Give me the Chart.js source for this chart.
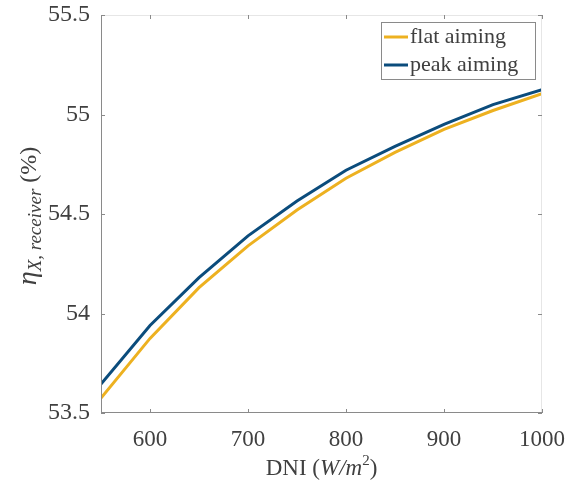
<!DOCTYPE html>
<html><head><meta charset="utf-8">
<script src="https://cdn.jsdelivr.net/npm/chart.js@4/dist/chart.umd.min.js"></script>
<style>html,body{margin:0;padding:0;background:#fff}#wrap{width:568px;height:486px}</style>
</head><body><div id="wrap"><canvas id="c" width="568" height="486"></canvas></div>
<script>
const dni = [550, 600, 650, 700, 750, 800, 850, 900, 950, 1000];
const flatAiming = [53.575, 53.875, 54.13, 54.34, 54.52, 54.68, 54.81, 54.925, 55.02, 55.105];
const peakAiming = [53.645, 53.94, 54.18, 54.39, 54.565, 54.72, 54.84, 54.95, 55.05, 55.125];
const xTicks = [600, 700, 800, 900, 1000];
const yTicks = [53.5, 54, 54.5, 55, 55.5];
const seriesNames = ['flat aiming', 'peak aiming'];
const seriesColors = ['#EDB120', '#0B4C7C'];
const SERIF = '"Liberation Serif", "DejaVu Serif", serif';
const TXT = '#404040';

const frame = {
  id: 'frame',
  afterDraw(chart) {
    const ctx = chart.ctx, a = chart.chartArea;
    const xs = chart.scales.x, ys = chart.scales.y;
    ctx.save();
    ctx.lineWidth = 1;
    ctx.strokeStyle = '#e6e6e6';
    ctx.beginPath();
    ctx.moveTo(a.left, a.top + 0.5); ctx.lineTo(a.right, a.top + 0.5);
    ctx.moveTo(a.right - 0.5, a.top); ctx.lineTo(a.right - 0.5, a.bottom);
    ctx.stroke();
    ctx.strokeStyle = '#8a8a8a';
    ctx.beginPath();
    ctx.moveTo(a.left + 0.5, a.top); ctx.lineTo(a.left + 0.5, a.bottom);
    ctx.moveTo(a.left, a.bottom - 0.5); ctx.lineTo(a.right, a.bottom - 0.5);
    ctx.stroke();
    ctx.beginPath();
    xTicks.forEach(v => {
      const px = Math.round(xs.getPixelForValue(v)) + 0.5;
      ctx.moveTo(px, a.bottom); ctx.lineTo(px, a.bottom - 4);
      ctx.moveTo(px, a.top); ctx.lineTo(px, a.top + 4);
    });
    yTicks.forEach(v => {
      const py = Math.round(ys.getPixelForValue(v)) + 0.5;
      ctx.moveTo(a.left, py); ctx.lineTo(a.left + 4, py);
      ctx.moveTo(a.right, py); ctx.lineTo(a.right - 4, py);
    });
    ctx.stroke();
    // legend
    const lx = 381, ly = 22, lw = 154, lh = 57;
    ctx.fillStyle = '#fff';
    ctx.fillRect(lx, ly, lw, lh);
    ctx.strokeStyle = '#8a8a8a';
    ctx.strokeRect(lx + 0.5, ly + 0.5, lw, lh);
    ctx.font = '22px ' + SERIF;
    ctx.textBaseline = 'middle';
    ctx.textAlign = 'left';
    seriesNames.forEach((name, i) => {
      const yy = ly + 15 + i * 28;
      ctx.strokeStyle = seriesColors[i]; ctx.lineWidth = 3;
      ctx.beginPath(); ctx.moveTo(lx + 3, yy); ctx.lineTo(lx + 27, yy); ctx.stroke();
      ctx.fillStyle = TXT;
      ctx.fillText(name, lx + 29, yy);
    });
    // x title
    ctx.fillStyle = TXT;
    ctx.textBaseline = 'alphabetic';
    const parts = [['DNI (', '23px ' + SERIF, 0], ['W/m', 'italic 23px ' + SERIF, 0], ['2', '15px ' + SERIF, -10], [')', '23px ' + SERIF, 0]];
    let tw = 0;
    parts.forEach(p => { ctx.font = p[1]; tw += ctx.measureText(p[0]).width; });
    let x0 = (a.left + a.right) / 2 - tw / 2;
    parts.forEach(p => { ctx.font = p[1]; ctx.fillText(p[0], x0, 475 + p[2]); x0 += ctx.measureText(p[0]).width; });
    // y title
    ctx.translate(36, 216);
    ctx.rotate(-Math.PI / 2);
    const yp = [['η', 'italic 28px ' + SERIF, 0], ['X, receiver', 'italic 19px ' + SERIF, 5], [' (%)', '24px ' + SERIF, 0]];
    tw = 0;
    yp.forEach(p => { ctx.font = p[1]; tw += ctx.measureText(p[0]).width; });
    x0 = -tw / 2;
    yp.forEach(p => { ctx.font = p[1]; ctx.fillText(p[0], x0, p[2]); x0 += ctx.measureText(p[0]).width; });
    ctx.restore();
  }
};

new Chart(document.getElementById('c'), {
  type: 'line',
  data: {
    datasets: [1, 0].map(i => ({
      label: seriesNames[i],
      data: dni.map((d, k) => ({ x: d, y: (i === 0 ? flatAiming : peakAiming)[k] })),
      borderColor: seriesColors[i],
      borderWidth: 3,
      pointRadius: 0,
      tension: 0,
      fill: false
    }))
  },
  options: {
    responsive: false,
    animation: false,
    layout: { padding: { top: 15, right: 26, left: 0, bottom: 0 } },
    plugins: { legend: { display: false }, tooltip: { enabled: false } },
    scales: {
      x: {
        type: 'linear', min: 550, max: 1000,
        afterBuildTicks: s => { s.ticks = xTicks.map(v => ({ value: v })); },
        afterFit: s => { s.height = 73; s.paddingLeft = 0; s.paddingRight = 0; },
        grid: { display: false }, border: { display: false },
        ticks: { font: { family: SERIF, size: 23 }, color: TXT, padding: 5, maxRotation: 0, callback: v => String(v) }
      },
      y: {
        type: 'linear', min: 53.5, max: 55.5,
        afterBuildTicks: s => { s.ticks = yTicks.map(v => ({ value: v })); },
        afterFit: s => { s.width = 101; s.paddingTop = 0; s.paddingBottom = 0; },
        grid: { display: false }, border: { display: false },
        ticks: { font: { family: SERIF, size: 24 }, color: TXT, padding: 3, callback: v => String(v) }
      }
    }
  },
  plugins: [frame]
});
</script></body></html>
